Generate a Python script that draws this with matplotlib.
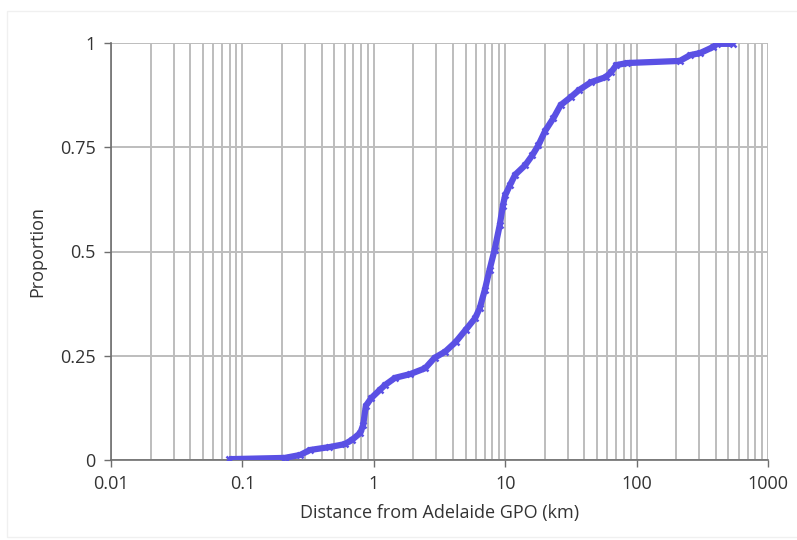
import matplotlib
matplotlib.use("Agg")
import matplotlib.pyplot as plt
from matplotlib.ticker import LogLocator, FixedLocator, NullFormatter
from matplotlib.patches import Rectangle

distance_km = [0.079, 0.21, 0.275, 0.327, 0.46, 0.6, 0.68, 0.79, 0.83, 0.87,
               0.96, 1.11, 1.22, 1.45, 1.89, 2.46, 2.9, 3.5, 4.2, 5.0,
               5.9, 6.4, 7.0, 7.6, 8.3, 9.1, 9.6, 10.0, 10.9, 11.9,
               14.2, 16.1, 17.9, 20.2, 23.3, 26.4, 31.5, 36.4, 45, 58,
               64, 70, 85, 213, 256, 305, 380, 410, 540]
proportion = [0.002, 0.005, 0.012, 0.024, 0.031, 0.038, 0.048, 0.065, 0.084, 0.13,
              0.149, 0.168, 0.18, 0.197, 0.206, 0.22, 0.245, 0.26, 0.283, 0.312,
              0.34, 0.364, 0.408, 0.456, 0.504, 0.564, 0.61, 0.635, 0.66, 0.684,
              0.707, 0.731, 0.755, 0.79, 0.82, 0.851, 0.87, 0.887, 0.906, 0.918,
              0.93, 0.947, 0.952, 0.957, 0.971, 0.976, 0.99, 0.998, 0.998]

x_ticks = [0.01, 0.1, 1, 10, 100, 1000]
x_tick_labels = ["0.01", "0.1", "1", "10", "100", "1000"]
y_ticks = [0, 0.25, 0.5, 0.75, 1]
y_tick_labels = ["0", "0.25", "0.5", "0.75", "1"]

plt.rcParams['font.family'] = ['Open Sans', 'DejaVu Sans']

fig = plt.figure(figsize=(7.97, 5.40), dpi=100)
fig.patches.append(Rectangle((7/797, 0.005), 1.0, 1 - 11/540 - 0.005, transform=fig.transFigure,
                             fill=False, edgecolor='#f0f0f0', linewidth=1))
ax = fig.add_axes([111/797, 1 - 460/540, (768 - 111)/797, (460 - 43)/540])

ax.set_xscale('log')
ax.set_xlim(0.01, 1000)
ax.set_ylim(0, 1)

ax.xaxis.set_major_locator(FixedLocator(x_ticks))
ax.set_xticklabels(x_tick_labels)
ax.xaxis.set_minor_locator(LogLocator(base=10, subs=range(2, 10), numticks=20))
ax.xaxis.set_minor_formatter(NullFormatter())
ax.set_yticks(y_ticks)
ax.set_yticklabels(y_tick_labels)

ax.grid(True, which='both', axis='x', color='#bdbdbd', linewidth=1.4)
ax.grid(True, which='major', axis='y', color='#bdbdbd', linewidth=1.4)
ax.set_axisbelow(True)

for s in ['top', 'right']:
    ax.spines[s].set_visible(False)
for s in ['left', 'bottom']:
    ax.spines[s].set_color('#6e6e6e')
    ax.spines[s].set_linewidth(1.2)

ax.tick_params(axis='both', which='major', length=5, width=1, color='#6e6e6e',
               labelsize=13, labelcolor='#333333', pad=6)
ax.tick_params(axis='x', which='minor', length=0)

ax.plot(distance_km, proportion, color='#5a50e4', linewidth=4.5, marker='x',
        markersize=5, markeredgewidth=1.8, solid_capstyle='butt',
        solid_joinstyle='round', zorder=3)

ax.set_xlabel("Distance from Adelaide GPO (km)", fontsize=13, color='#333333', labelpad=8)
ax.set_ylabel("Proportion", fontsize=13, color='#333333', labelpad=10)

fig.savefig("out.png", dpi=100)
